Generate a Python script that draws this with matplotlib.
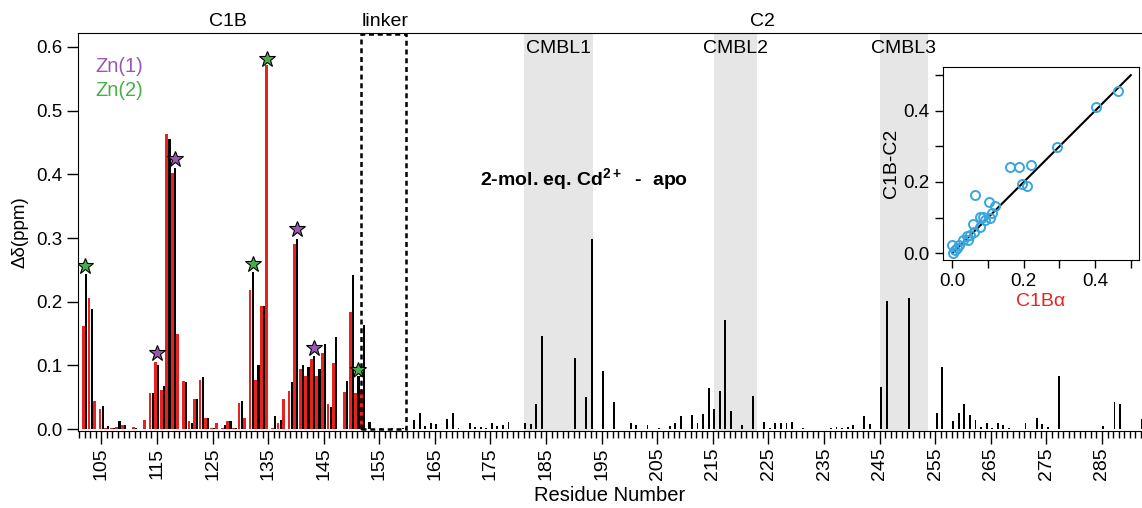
import numpy as np
import matplotlib.pyplot as plt
from matplotlib.patches import Rectangle
from matplotlib.ticker import MultipleLocator, FixedLocator, FormatStrFormatter

plt.rcParams['font.family'] = ['Liberation Sans', 'DejaVu Sans']
plt.rcParams['mathtext.fontset'] = 'custom'
plt.rcParams['mathtext.rm'] = 'Liberation Sans'
plt.rcParams['mathtext.bf'] = 'Liberation Sans:bold'

# C1B region: red = C1Ba, black = C1B-C2 (residues 102-153)
pair_res = np.arange(102, 154)
red_vals = [0.162, 0.206, 0.044, 0.032, 0.001, 0.002, 0.003, 0.006, 0.0, 0.003,
            0.0, 0.014, 0.056, 0.105, 0.062, 0.464, 0.402, 0.150, 0.075, 0.012,
            0.048, 0.077, 0.017, 0.001, 0.009, 0.001, 0.012, 0.001, 0.041, 0.017,
            0.219, 0.077, 0.194, 0.571, 0.001, 0.009, 0.047, 0.060, 0.290, 0.095,
            0.083, 0.110, 0.084, 0.119, 0.039, 0.104, 0.0, 0.059, 0.184, 0.056,
            0.063, 0.0]
black_pair = [0.243, 0.188, 0.0, 0.037, 0.005, 0.002, 0.012, 0.006, 0.0, 0.002,
              0.0, 0.0, 0.056, 0.100, 0.068, 0.455, 0.410, 0.0, 0.074, 0.010,
              0.047, 0.082, 0.018, 0.002, 0.0, 0.007, 0.012, 0.002, 0.044, 0.0,
              0.247, 0.100, 0.194, 0.0, 0.021, 0.014, 0.0, 0.074, 0.298, 0.100,
              0.098, 0.115, 0.094, 0.133, 0.035, 0.145, 0.0, 0.075, 0.242, 0.083,
              0.164, 0.011]

# linker + C2 region, black only
c2_res = [155, 157, 159, 161, 162, 163, 164, 165, 167, 168, 169, 171, 172, 173, 174,
          175, 176, 177, 178, 181, 182, 183, 184, 190, 192, 193, 195, 197, 200, 201,
          203, 205, 207, 208, 209, 211, 212, 213, 214, 215, 216, 217, 218, 220, 222,
          224, 225, 226, 227, 228, 229, 231, 234, 236, 237, 238, 239, 240, 242, 243,
          245, 246, 250, 255, 256, 258, 259, 260, 261, 262, 263, 264, 265, 266, 267,
          268, 271, 273, 274, 275, 277, 285, 287, 288, 292]
c2_vals = [0.002, 0.002, 0.002, 0.015, 0.025, 0.005, 0.009, 0.008, 0.016, 0.025, 0.002,
           0.009, 0.003, 0.003, 0.001, 0.010, 0.005, 0.007, 0.011, 0.009, 0.008, 0.040,
           0.146, 0.112, 0.050, 0.298, 0.091, 0.042, 0.010, 0.006, 0.007, 0.002, 0.005,
           0.009, 0.021, 0.022, 0.010, 0.023, 0.065, 0.032, 0.060, 0.172, 0.029, 0.007,
           0.052, 0.011, 0.001, 0.010, 0.009, 0.009, 0.011, 0.002, 0.0005, 0.001, 0.003,
           0.002, 0.003, 0.006, 0.021, 0.008, 0.066, 0.201, 0.206, 0.025, 0.097, 0.0125,
           0.025, 0.039, 0.022, 0.014, 0.003, 0.009, 0.001, 0.009, 0.006, 0.002, 0.010,
           0.017, 0.008, 0.004, 0.083, 0.005, 0.042, 0.039, 0.016]

# Zn coordinating residues (stars)
zn1_res = [115, 118.25, 140.25, 143.25]
zn1_y = [0.119, 0.424, 0.314, 0.128]
zn2_res = [102, 132.25, 134.76, 151.25]
zn2_y = [0.256, 0.259, 0.581, 0.093]

# CMBL loops and linker (residue ranges)
cmbl_names = ['CMBL1', 'CMBL2', 'CMBL3']
cmbl_spans = [(181.1, 193.5), (215.2, 222.9), (245.0, 253.7)]
linker_span = (151.7, 159.8)

# inset correlation: C1Ba vs C1B-C2
corr_x = [0.465, 0.403, 0.292, 0.162, 0.186, 0.221, 0.195, 0.209, 0.064, 0.103,
          0.120, 0.111, 0.106, 0.078, 0.087, 0.092, 0.057, 0.078, 0.061, 0.040,
          0.045, 0.031, 0.020, 0.000, 0.008, 0.001, 0.014, 0.050]
corr_y = [0.455, 0.411, 0.299, 0.242, 0.242, 0.248, 0.195, 0.188, 0.164, 0.143,
          0.133, 0.113, 0.099, 0.103, 0.103, 0.094, 0.083, 0.075, 0.061, 0.047,
          0.038, 0.038, 0.023, 0.023, 0.009, 0.000, 0.014, 0.052]

red = '#e8231f'
purple = '#9b55b3'
green = '#48ad4b'

fig = plt.figure(figsize=(11.42, 5.08), dpi=100)
ax = fig.add_axes([0.0683, 0.1516, 0.9317, 0.7835])

for (a, b), name in zip(cmbl_spans, cmbl_names):
    ax.axvspan(a, b, color='#e6e6e6', lw=0, zorder=0)
    ax.text((a + b) / 2, 0.598, name, ha='center', va='center', fontsize=14)

ax.bar(pair_res - 0.24, red_vals, width=0.5, color=red, zorder=2)
ax.bar(pair_res + 0.25, black_pair, width=0.4, color='black', zorder=3)
ax.bar(np.array(c2_res) + 0.25, c2_vals, width=0.34, color='black', zorder=3)

ax.plot(zn1_res, zn1_y, '*', color=purple, mec='black', mew=0.8, ms=12, zorder=5)
ax.plot(zn2_res, zn2_y, '*', color=green, mec='black', mew=0.8, ms=12, zorder=5)

ax.add_patch(Rectangle((linker_span[0], 0), linker_span[1] - linker_span[0], 0.62,
                       fill=False, ls=(0, (2, 1.5)), lw=1.8, color='black', zorder=4))

ax.set_xlim(100.8, 292.2)
ax.set_ylim(-0.003, 0.622)
ax.xaxis.set_major_locator(FixedLocator(range(105, 290, 10)))
ax.xaxis.set_minor_locator(MultipleLocator(1))
ax.yaxis.set_major_locator(MultipleLocator(0.1))
ax.yaxis.set_major_formatter(FormatStrFormatter('%.1f'))
ax.tick_params(axis='x', which='major', length=9, width=1, labelsize=14,
               labelrotation=90, pad=3)
ax.tick_params(axis='x', which='minor', length=5, width=1)
ax.tick_params(axis='y', length=8, width=1, labelsize=13.5)
ax.spines['right'].set_visible(False)
ax.set_xlabel('Residue Number', fontsize=14.5, labelpad=4)
ax.set_ylabel('Δδ(ppm)', fontsize=13.5, labelpad=5)

# domain labels above the axes
top = ax.get_xaxis_transform()
ax.text(127.8, 1.028, 'C1B', transform=top, ha='center', va='center', fontsize=14)
ax.text(156.1, 1.028, 'linker', transform=top, ha='center', va='center', fontsize=14)
ax.text(223.9, 1.028, 'C2', transform=top, ha='center', va='center', fontsize=14)

ax.text(104.0, 0.570, 'Zn(1)', color=purple, fontsize=14.5, va='center')
ax.text(104.0, 0.532, 'Zn(2)', color=green, fontsize=14.5, va='center')
ax.text(191.9, 0.392, r'2-mol. eq. Cd$^{\mathbf{2+}}$  -  apo', ha='center',
        va='center', fontsize=14, fontweight='bold')

# inset
axi = fig.add_axes([0.8255, 0.4882, 0.1722, 0.3793])
axi.plot([0, 0.5], [0, 0.5], color='black', lw=1.5, zorder=2)
axi.plot(corr_x, corr_y, 'o', mfc='none', mec='#3aa6dd', mew=1.4, ms=6.5, zorder=3)
axi.set_xlim(-0.027, 0.524)
axi.set_ylim(-0.019, 0.522)
for a in (axi.xaxis, axi.yaxis):
    a.set_major_locator(FixedLocator([0, 0.2, 0.4]))
    a.set_minor_locator(FixedLocator([0.1, 0.3, 0.5]))
    a.set_major_formatter(FormatStrFormatter('%.1f'))
axi.tick_params(which='major', length=6, width=1, labelsize=13.5)
axi.tick_params(which='minor', length=6, width=1)
axi.set_xlabel('C1Bα', color=red, fontsize=14, labelpad=2)
axi.set_ylabel('C1B-C2', fontsize=14, labelpad=2)

plt.savefig('out.png', dpi=100)
plt.close()
